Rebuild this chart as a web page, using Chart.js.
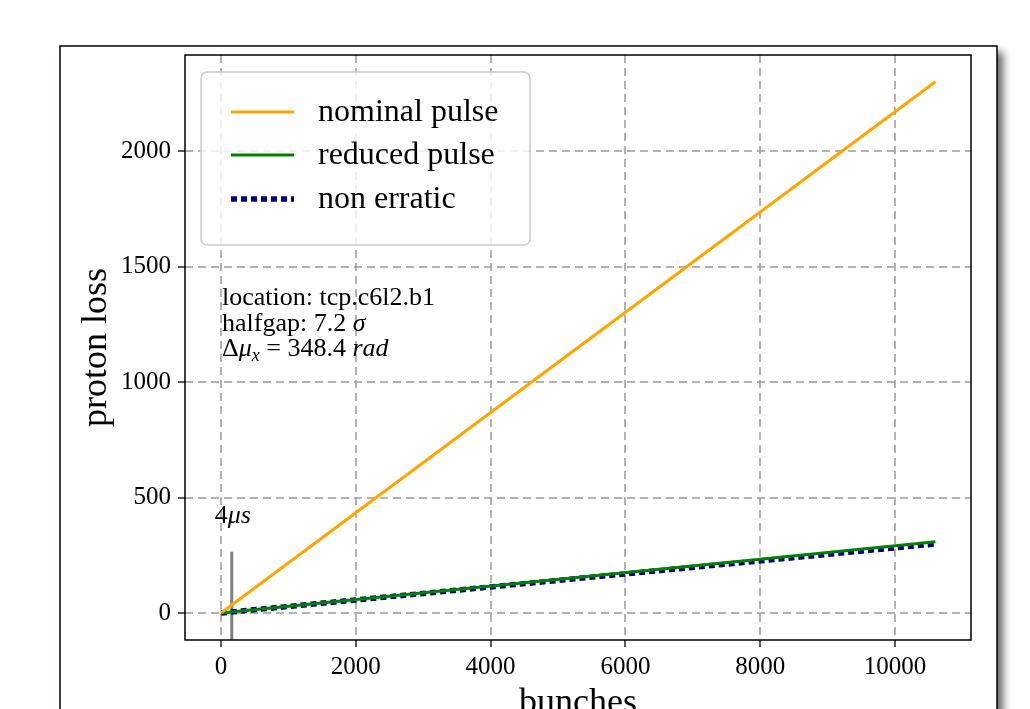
<!DOCTYPE html>
<html><head><meta charset="utf-8">
<script src="https://cdn.jsdelivr.net/npm/chart.js@4"></script>
<style>
html,body{margin:0;padding:0;background:#fff;overflow:hidden;width:1030px;height:709px}
#wrap{position:relative;width:1030px;height:740px}
</style>
</head><body><div id="wrap"><canvas id="c" width="1030" height="740"></canvas></div>
<script>
// ---- data ----
const bunches = [0, 10600];
const nominalPulse = [0, 2300];
const reducedPulse = [0, 308];
const nonErratic = [0, 299];
const markerBunches = [160, 160];
const markerLoss = [-150, 265];
const xTickValues = [0, 2000, 4000, 6000, 8000, 10000];
const yTickValues = [0, 500, 1000, 1500, 2000];
const seriesLabels = ['nominal pulse', 'reduced pulse', 'non erratic'];
const xRange = [-534, 11128];
const yRange = [-117, 2416];

const SERIF = "'Liberation Serif', 'DejaVu Serif', serif";
const pts = (xs, ys) => xs.map((x, i) => ({x: x, y: ys[i]}));

function drawMixed(ctx, x, y, parts) {
  // parts: [text, size, italic, dy]
  for (const p of parts) {
    ctx.font = (p[2] ? 'italic ' : '') + p[1] + 'px ' + SERIF;
    ctx.fillText(p[0], x, y + (p[3] || 0));
    x += ctx.measureText(p[0]).width;
  }
}

const framePlugin = {
  id: 'frame',
  beforeDraw(chart) {
    const ctx = chart.ctx;
    ctx.save();
    ctx.fillStyle = '#fff';
    ctx.fillRect(0, 0, chart.width, chart.height);
    ctx.shadowColor = 'rgba(0,0,0,0.6)';
    ctx.shadowBlur = 8;
    ctx.shadowOffsetX = 6;
    ctx.shadowOffsetY = 6;
    ctx.fillStyle = '#fff';
    ctx.fillRect(60, 46, 937, 760);
    ctx.restore();
    ctx.save();
    ctx.strokeStyle = '#000';
    ctx.lineWidth = 1.5;
    ctx.strokeRect(60, 46, 937, 760);
    ctx.restore();
  },
  afterDatasetsDraw(chart) {
    const ctx = chart.ctx;
    const a = chart.chartArea;
    const xs = chart.scales.x, ys = chart.scales.y;
    ctx.save();
    ctx.fillStyle = '#000';
    ctx.textBaseline = 'alphabetic';
    const tx = xs.getPixelForValue(0) + 1;
    const fs = 26;
    drawMixed(ctx, tx, 305, [['location: tcp.c6l2.b1', fs, false]]);
    drawMixed(ctx, tx, 331, [['halfgap: 7.2 ', fs, false], ['σ', fs, true]]);
    drawMixed(ctx, tx, 356, [['Δ', fs, false], ['μ', fs, true], ['x', 18, true, 5], [' = 348.4 ', fs, false], ['rad', fs, true]]);
    const mx = xs.getPixelForValue(markerBunches[0]);
    const my = ys.getPixelForValue(markerLoss[1]);
    drawMixed(ctx, mx - 17, my - 29, [['4', fs, false], ['μs', fs, true]]);

    // legend box
    const bx = 201, by = 72, bw = 329, bh = 173, r = 6;
    ctx.beginPath();
    ctx.moveTo(bx + r, by);
    ctx.arcTo(bx + bw, by, bx + bw, by + bh, r);
    ctx.arcTo(bx + bw, by + bh, bx, by + bh, r);
    ctx.arcTo(bx, by + bh, bx, by, r);
    ctx.arcTo(bx, by, bx + bw, by, r);
    ctx.closePath();
    ctx.fillStyle = 'rgba(255,255,255,0.8)';
    ctx.fill();
    ctx.strokeStyle = 'rgba(204,204,204,1)';
    ctx.lineWidth = 1.5;
    ctx.stroke();
    const rows = [112, 155, 199];
    chart.data.datasets.slice(0, 3).forEach((ds, i) => {
      ctx.beginPath();
      ctx.strokeStyle = ds.borderColor;
      ctx.lineWidth = ds.borderWidth;
      ctx.setLineDash(ds.borderDash || []);
      ctx.moveTo(231, rows[i]);
      ctx.lineTo(294, rows[i]);
      ctx.stroke();
      ctx.setLineDash([]);
      ctx.fillStyle = '#000';
      ctx.font = '32px ' + SERIF;
      ctx.textBaseline = 'middle';
      ctx.fillText(ds.label, 318, rows[i] + 1);
    });
    ctx.strokeStyle = '#000';
    ctx.lineWidth = 1.5;
    ctx.strokeRect(a.left, a.top, a.right - a.left, a.bottom - a.top);
    ctx.restore();
  }
};

const gridOpts = {
  color: 'rgba(160,160,160,0.8)',
  lineWidth: 2,
  tickColor: '#000',
  tickWidth: 1.3,
  tickLength: 7,
  tickBorderDash: []
};

new Chart(document.getElementById('c'), {
  type: 'line',
  data: {
    datasets: [
      {label: seriesLabels[0], data: pts(bunches, nominalPulse), borderColor: '#FFA500', borderWidth: 3},
      {label: seriesLabels[1], data: pts(bunches, reducedPulse), borderColor: '#008000', borderWidth: 3},
      {label: seriesLabels[2], data: pts(bunches, nonErratic), borderColor: '#000080', borderWidth: 5.5, borderDash: [6, 4]},
      {label: '4us', data: pts(markerBunches, markerLoss), borderColor: '#808080', borderWidth: 3}
    ]
  },
  options: {
    responsive: false,
    animation: false,
    devicePixelRatio: 1,
    layout: {padding: {left: 0, top: 55, right: 59, bottom: 0}},
    elements: {point: {radius: 0}, line: {tension: 0, borderCapStyle: 'butt', fill: false}},
    plugins: {legend: {display: false}, tooltip: {enabled: false}},
    scales: {
      x: {
        type: 'linear', min: xRange[0], max: xRange[1],
        afterFit: s => { s.height = 100; },
        afterBuildTicks: s => { s.ticks = xTickValues.map(v => ({value: v})); },
        grid: gridOpts,
        border: {display: false, dash: [8, 5]},
        ticks: {color: '#000', padding: 5, maxRotation: 0, font: {family: SERIF, size: 25}, callback: v => String(v)},
        title: {display: true, text: 'bunches', color: '#000', font: {family: SERIF, size: 36, lineHeight: 1}, padding: {top: 0, bottom: 18}}
      },
      y: {
        type: 'linear', min: yRange[0], max: yRange[1],
        afterFit: s => { s.width = 185; },
        afterBuildTicks: s => { s.ticks = yTickValues.map(v => ({value: v})); },
        grid: gridOpts,
        border: {display: false, dash: [8, 5]},
        ticks: {color: '#000', padding: 7, font: {family: SERIF, size: 25}, callback: v => String(v)},
        title: {display: true, text: 'proton loss', color: '#000', font: {family: SERIF, size: 36, lineHeight: 1}, padding: {top: 79, bottom: 0}}
      }
    }
  },
  plugins: [framePlugin]
});
</script>
</body></html>
